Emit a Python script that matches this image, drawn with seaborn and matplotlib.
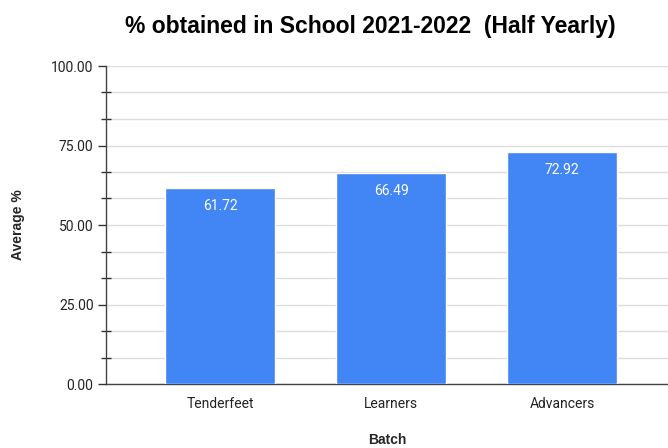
import matplotlib
matplotlib.use("Agg")
import matplotlib.pyplot as plt
import seaborn as sns
import pandas as pd
from matplotlib.ticker import MultipleLocator, FormatStrFormatter

batches = ["Tenderfeet", "Learners", "Advancers"]
averages = [61.72, 66.49, 72.92]

df = pd.DataFrame({"Batch": batches, "Average %": averages})

sns.set_theme(style="white")
plt.rcParams['font.family'] = ['Roboto', 'DejaVu Sans']

fig = plt.figure(figsize=(6.68, 4.48), dpi=100)
ax = fig.add_axes([106/668, 1 - 384/448, 1 - 106/668, (384 - 66)/448])

sns.barplot(data=df, x="Batch", y="Average %", color="#4285F4", width=0.643,
            saturation=1, ax=ax, zorder=3)

ax.set_ylim(0, 100)
ax.set_xlim(-0.667, 2.62)
ax.yaxis.set_major_locator(MultipleLocator(25))
ax.yaxis.set_minor_locator(MultipleLocator(25/3))
ax.yaxis.set_major_formatter(FormatStrFormatter('%.2f'))
ax.grid(True, axis='y', which='both', color='#dddddd', linewidth=1, zorder=0)
ax.set_axisbelow(True)

for s in ['top', 'right']:
    ax.spines[s].set_visible(False)
for s in ['left', 'bottom']:
    ax.spines[s].set_color('#444444')
    ax.spines[s].set_linewidth(1)

ax.tick_params(axis='y', which='major', direction='out', length=6, width=1,
               color='#333333', labelsize=10, labelcolor='#222222', left=True, pad=3)
ax.tick_params(axis='y', which='minor', direction='inout', length=7, width=1,
               color='#333333', left=True)
ax.tick_params(axis='x', which='both', length=0, labelsize=10, labelcolor='#222222', pad=9)

for patch, val in zip(ax.patches, averages):
    ax.annotate(f"{val:.2f}", (patch.get_x() + patch.get_width()/2, patch.get_height()),
                xytext=(0, -13), textcoords='offset points', ha='center', va='center',
                color='white', fontsize=10)

ax.set_xlabel("Batch", fontsize=10, fontweight='bold', family=['Liberation Sans', 'DejaVu Sans'])
ax.xaxis.set_label_coords(0.5, -(440 - 384) / 318, transform=ax.transAxes)
ax.xaxis.label.set_va('center')
ax.set_ylabel("Average %", fontsize=10, fontweight='bold', family=['Liberation Sans', 'DejaVu Sans'])
ax.yaxis.set_label_coords(-(106 - 18) / 562, 0.5)
ax.yaxis.label.set_va('center')

fig.text(370/668, 1 - 27/448, "% obtained in School 2021-2022  (Half Yearly)",
         ha='center', va='center', fontsize=16.5, fontweight='bold',
         family=['Liberation Sans', 'DejaVu Sans'], color='#000000')

fig.savefig("out.png", dpi=100)
